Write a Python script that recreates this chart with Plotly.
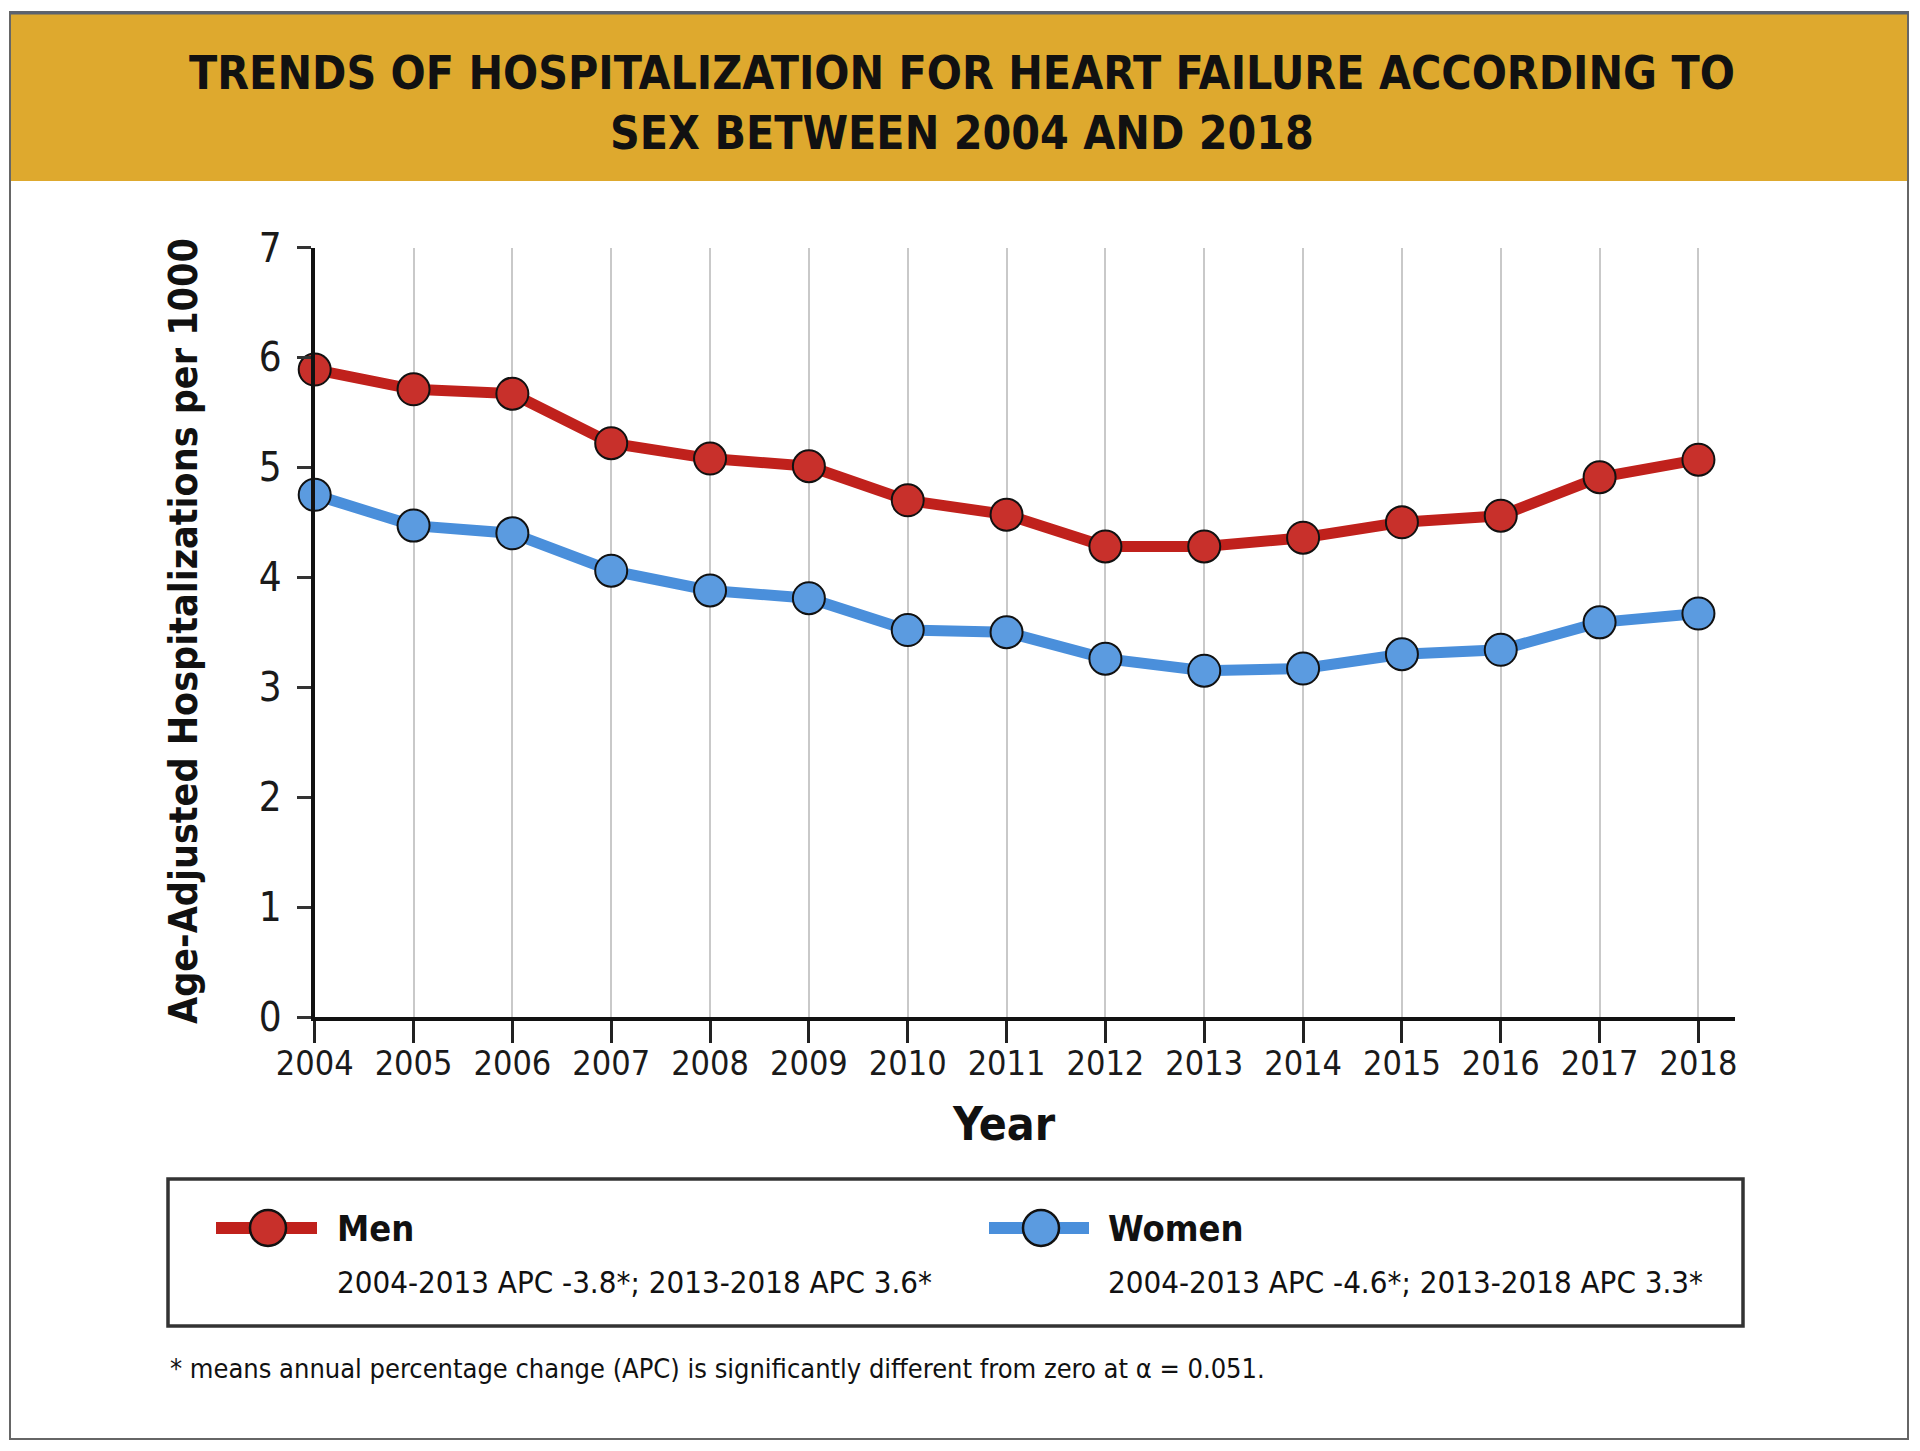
import plotly.graph_objects as go

years = list(range(2004, 2019))
men = [5.89, 5.71, 5.67, 5.22, 5.08, 5.01, 4.70, 4.57, 4.28, 4.28, 4.36, 4.50, 4.56, 4.91, 5.07]
women = [4.75, 4.47, 4.40, 4.06, 3.88, 3.81, 3.52, 3.50, 3.26, 3.15, 3.17, 3.30, 3.34, 3.59, 3.67]
y_ticks = [0, 1, 2, 3, 4, 5, 6, 7]

title_text = "TRENDS OF HOSPITALIZATION FOR HEART FAILURE ACCORDING TO<br>SEX BETWEEN 2004 AND 2018"
y_title = "Age-Adjusted Hospitalizations per 1000"
x_title = "Year"
men_label = "Men"
women_label = "Women"
men_note = "2004-2013 APC -3.8*; 2013-2018 APC 3.6*"
women_note = "2004-2013 APC -4.6*; 2013-2018 APC 3.3*"
footnote = "* means annual percentage change (APC) is significantly different from zero at \u03b1 = 0.051."

# page body has an 8px margin; figure sized to fit the window
OFF = 8
W, H = 1920 - 2 * OFF, 1451 - 2 * OFF
FONT = "DejaVu Sans Condensed, Liberation Sans Narrow, Arial Narrow, sans-serif"
RED_LINE = "#C0211C"
RED_FILL = "#C8302B"
BLUE_LINE = "#4A8FDB"
BLUE_FILL = "#5B9BE0"

def px(x):
    return (x - OFF) / W

def py(y):
    return 1 - (y - OFF) / H

fig = go.Figure()
fig.add_trace(go.Scatter(
    x=years, y=men, mode="lines+markers", name=men_label,
    line=dict(color=RED_LINE, width=11),
    marker=dict(size=32, color=RED_FILL, line=dict(color="#111111", width=2)),
    cliponaxis=False, showlegend=False))
fig.add_trace(go.Scatter(
    x=years, y=women, mode="lines+markers", name=women_label,
    line=dict(color=BLUE_LINE, width=11),
    marker=dict(size=32, color=BLUE_FILL, line=dict(color="#111111", width=2)),
    cliponaxis=False, showlegend=False))

x0p, x1p = 314.7, 1735
y0p, y7p = 1017, 247.5

fig.update_layout(
    width=W, height=H,
    margin=dict(l=0, r=0, t=0, b=0, autoexpand=False),
    paper_bgcolor="white", plot_bgcolor="white",
    showlegend=False,
    font=dict(family=FONT, color="#1a1a1a"),
    xaxis=dict(
        domain=[px(x0p), px(x1p)], range=[2004, 2018.37],
        tickmode="array", tickvals=years, ticktext=[str(v) for v in years],
        showgrid=True, gridcolor="#C9C9C9", gridwidth=2,
        showline=True, linecolor="#111111", linewidth=4,
        ticks="outside", ticklen=22, tickwidth=2.5, tickcolor="#222222",
        ticklabelstandoff=-9,
        tickfont=dict(size=34, family=FONT, color="#1a1a1a"),
        zeroline=False, fixedrange=True, automargin=False,
    ),
    yaxis=dict(
        domain=[py(y0p), py(y7p)], range=[0, 7],
        tickmode="array", tickvals=y_ticks,
        showgrid=False, showline=True, linecolor="#111111", linewidth=4,
        ticks="outside", ticklen=14, tickwidth=2.5, tickcolor="#333333",
        ticklabelstandoff=7,
        tickfont=dict(size=40, family=FONT, color="#1a1a1a"),
        zeroline=False, fixedrange=True, automargin=False,
    ),
)

shapes = []
# outer frame
shapes.append(dict(type="rect", xref="paper", yref="paper",
                   x0=px(10), x1=px(1908), y0=py(1439), y1=py(12),
                   line=dict(color="#666666", width=2), fillcolor="rgba(0,0,0,0)", layer="below"))
# banner
shapes.append(dict(type="rect", xref="paper", yref="paper",
                   x0=px(11), x1=px(1907), y0=py(181), y1=py(14),
                   line=dict(width=0), fillcolor="#DEA92E", layer="below"))
shapes.append(dict(type="line", xref="paper", yref="paper",
                   x0=px(10), x1=px(1908), y0=py(13), y1=py(13),
                   line=dict(color="#5a6270", width=3)))
# legend box
shapes.append(dict(type="rect", xref="paper", yref="paper",
                   x0=px(168), x1=px(1743), y0=py(1326), y1=py(1179),
                   line=dict(color="#333333", width=3.5), fillcolor="rgba(0,0,0,0)"))
# legend symbols
for (lx0, lx1, cx, lc, fc) in [(216, 317, 268, RED_LINE, RED_FILL), (989, 1089, 1041, BLUE_LINE, BLUE_FILL)]:
    shapes.append(dict(type="line", xref="paper", yref="paper",
                       x0=px(lx0), x1=px(lx1), y0=py(1228), y1=py(1228),
                       line=dict(color=lc, width=12)))
    shapes.append(dict(type="circle", xref="paper", yref="paper",
                       x0=px(cx - 18), x1=px(cx + 18), y0=py(1228 + 18), y1=py(1228 - 18),
                       line=dict(color="#111111", width=2.5), fillcolor=fc))
fig.update_layout(shapes=shapes)

ann = []
ann.append(dict(text="<b>" + title_text + "</b>", xref="paper", yref="paper",
                x=px(962), y=py(103), xanchor="center", yanchor="middle",
                showarrow=False, align="center",
                font=dict(family=FONT, size=46, color="#111111")))
ann.append(dict(text="<b>" + y_title + "</b>", xref="paper", yref="paper",
                x=px(184), y=py(631), xanchor="center", yanchor="middle",
                textangle=-90, showarrow=False,
                font=dict(family=FONT, size=39, color="#111111")))
ann.append(dict(text="<b>" + x_title + "</b>", xref="paper", yref="paper",
                x=px(1004), y=py(1124), xanchor="center", yanchor="middle",
                showarrow=False, font=dict(family=FONT, size=46, color="#111111")))
for (tx, lab, note) in [(335, men_label, men_note), (1106, women_label, women_note)]:
    ann.append(dict(text="<b>" + lab + "</b>", xref="paper", yref="paper",
                    x=px(tx), y=py(1228), xanchor="left", yanchor="middle",
                    showarrow=False, font=dict(family=FONT, size=36, color="#111111")))
    ann.append(dict(text=note, xref="paper", yref="paper",
                    x=px(tx), y=py(1282), xanchor="left", yanchor="middle",
                    showarrow=False, font=dict(family=FONT, size=31, color="#111111")))
ann.append(dict(text=footnote, xref="paper", yref="paper",
                x=px(168), y=py(1368), xanchor="left", yanchor="middle",
                showarrow=False, font=dict(family=FONT, size=27, color="#111111")))
fig.update_layout(annotations=ann)

fig.write_html("out.html")
